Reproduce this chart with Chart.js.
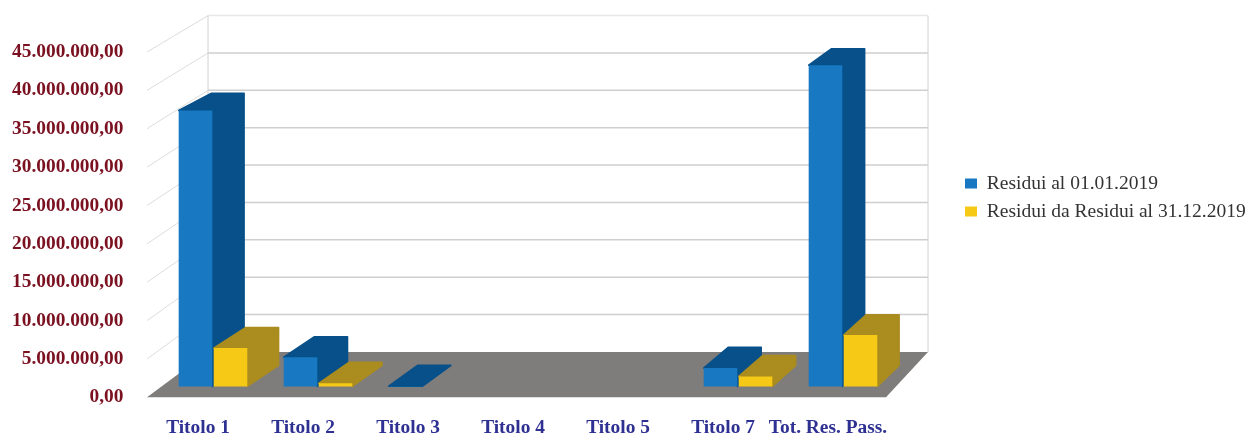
<!DOCTYPE html>
<html>
<head>
<meta charset="utf-8">
<script src="https://cdn.jsdelivr.net/npm/chart.js@4"></script>
<style>
html, body { margin: 0; padding: 0; background: #fff; overflow: hidden; }
#wrap { width: 1247px; height: 435px; padding-top: 2px; box-sizing: border-box; overflow: hidden; }
</style>
</head>
<body>
<div id="wrap"><canvas id="chart" width="1247" height="436"></canvas></div>
<script>
const categories = ['Titolo 1', 'Titolo 2', 'Titolo 3', 'Titolo 4', 'Titolo 5', 'Titolo 7', 'Tot. Res. Pass.'];
const residuiInizio = [35950000, 3800000, 30000, 0, 0, 2400000, 41850000];
const residuiFine = [5000000, 400000, 0, 0, 0, 1300000, 6700000];
const seriesNames = ['Residui al 01.01.2019', 'Residui da Residui al 31.12.2019'];
const faceColors = ['#1878c2', '#f5c915'];
const sideColors = ['#07508a', '#aa8c1f'];

const fmt = v => v.toLocaleString('it-IT', { minimumFractionDigits: 2, maximumFractionDigits: 2 });

// fake 3D: floor, walls and bar sides, all hung off the chart scales
const box = { frontL: 147, frontR: 886, backL: 208, backR: 928, backBottom: 350, backRatio: 0.974 };
const depthX = x => 35 - 0.015 * x;
const depth = {
    backY: (y, base) => base - 21 - (base - y) * 0.986
};

const room3d = {
    id: 'room3d',
    afterLayout(chart) {
        // legend sits further right and higher than the layout would put it
        chart.legend.left += 61;
        chart.legend.right += 100;
        chart.legend.top -= 53;
        chart.legend.bottom -= 53;
    },
    beforeDatasetsDraw(chart) {
        const { ctx } = chart;
        const y = chart.scales.y;
        const y0 = y.getPixelForValue(0);
        const toBack = p => box.backBottom - (y0 - p) * box.backRatio;
        const topFront = y.getPixelForValue(45000000);

        ctx.save();
        // floor
        ctx.fillStyle = '#7f7d7b';
        ctx.beginPath();
        ctx.moveTo(box.frontL, y0);
        ctx.lineTo(box.frontR, y0);
        ctx.lineTo(box.backR, box.backBottom);
        ctx.lineTo(box.backL, box.backBottom);
        ctx.closePath();
        ctx.fill();

        // gridlines on left and back walls
        ctx.lineWidth = 1.5;
        y.ticks.forEach(t => {
            if (t.value === 0) return;
            const p = y.getPixelForValue(t.value);
            ctx.strokeStyle = t.value === 45000000 ? '#e8e8e8' : '#cfcfcf';
            ctx.beginPath();
            ctx.moveTo(box.backL, toBack(p));
            ctx.lineTo(box.backR, toBack(p));
            ctx.stroke();
            ctx.strokeStyle = '#dcdcdc';
            ctx.lineWidth = 1;
            ctx.beginPath();
            ctx.moveTo(box.frontL, p);
            ctx.lineTo(box.backL, toBack(p));
            ctx.stroke();
            ctx.lineWidth = 1.5;
        });
        ctx.strokeStyle = '#d2d2d2';
        ctx.lineWidth = 1;
        [box.backL, box.backR].forEach(x => {
            ctx.beginPath();
            ctx.moveTo(x, toBack(topFront));
            ctx.lineTo(x, box.backBottom);
            ctx.stroke();
        });

        // side and top faces of the bars, blue first so yellow overlaps it
        chart.data.datasets.forEach((ds, i) => {
            const bars = chart.getDatasetMeta(i).data;
            bars.forEach((bar, j) => {
                if (!ds.data[j]) return;
                const left = bar.x - bar.width / 2;
                const right = bar.x + bar.width / 2;
                const topBack = depth.backY(bar.y, bar.base);
                const baseBack = depth.backY(bar.base, bar.base);
                ctx.fillStyle = sideColors[i];
                ctx.strokeStyle = sideColors[i];
                ctx.lineWidth = 1.5;
                ctx.lineJoin = 'round';
                ctx.beginPath();
                ctx.moveTo(left, bar.y);
                ctx.lineTo(left + depthX(left), topBack);
                ctx.lineTo(right + depthX(right), topBack);
                ctx.lineTo(right + depthX(right), baseBack);
                ctx.lineTo(right, bar.base);
                ctx.lineTo(right, bar.y);
                ctx.closePath();
                ctx.fill();
                ctx.stroke();
            });
        });
        ctx.restore();
    }
};

new Chart(document.getElementById('chart'), {
    type: 'bar',
    data: {
        labels: categories,
        datasets: [
            { label: seriesNames[0], data: residuiInizio, backgroundColor: faceColors[0], yAxisID: 'yBars' },
            { label: seriesNames[1], data: residuiFine, backgroundColor: faceColors[1], yAxisID: 'yBars' }
        ]
    },
    options: {
        responsive: false,
        animation: false,
        layout: { padding: { top: 50, right: 53, left: 0, bottom: -11 } },
        categoryPercentage: 0.667,
        barPercentage: 0.96,
        plugins: {
            tooltip: { enabled: false },
            legend: {
                position: 'right',
                labels: {
                    boxWidth: 12,
                    boxHeight: 10,
                    padding: 8.5,
                    color: '#333',
                    font: { family: '"Liberation Serif"', size: 19.5 }
                }
            }
        },
        scales: {
            x: {
                grid: { display: false },
                border: { display: false },
                ticks: {
                    padding: 11,
                    labelOffset: -15,
                    maxRotation: 0,
                    autoSkip: false,
                    color: '#2e3192',
                    font: { family: '"Liberation Serif"', size: 19.4, weight: 'bold' }
                },
                afterFit(s) { s.height = 37; }
            },
            y: {
                min: 0,
                max: 45000000,
                grid: { display: false },
                border: { display: false },
                ticks: {
                    stepSize: 5000000,
                    padding: 29,
                    color: '#7b1020',
                    font: { family: '"Liberation Serif"', size: 19.4, weight: 'bold' },
                    callback: v => fmt(v)
                },
                afterFit(s) { s.width = 160.5; }
            },
            // bars stand on the floor a little above the axis zero
            yBars: {
                display: false,
                min: -1430000,
                max: 43570000
            }
        }
    },
    plugins: [room3d]
});
</script>
</body>
</html>
